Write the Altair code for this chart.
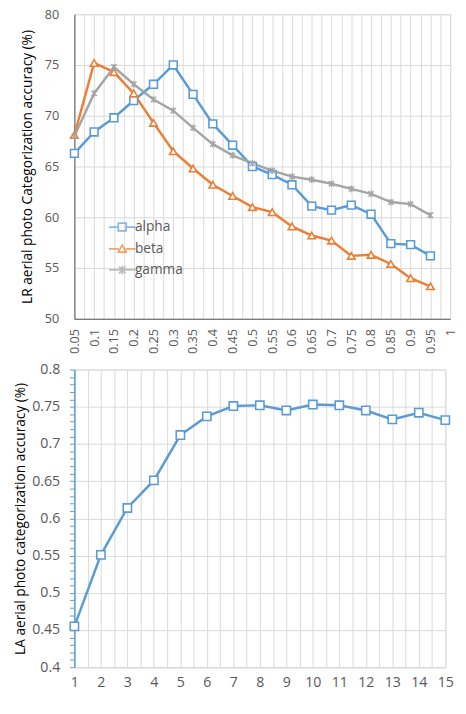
import altair as alt
import pandas as pd

# ---------------- data ----------------
top_x = [0.05, 0.1, 0.15, 0.2, 0.25, 0.3, 0.35, 0.4, 0.45, 0.5,
         0.55, 0.6, 0.65, 0.7, 0.75, 0.8, 0.85, 0.9, 0.95]
alpha = [66.3, 68.4, 69.8, 71.5, 73.1, 75.0, 72.1, 69.2, 67.1, 65.0,
         64.2, 63.2, 61.1, 60.7, 61.2, 60.3, 57.4, 57.3, 56.2]
beta = [68.1, 75.2, 74.3, 72.2, 69.3, 66.5, 64.8, 63.2, 62.1, 61.0,
        60.5, 59.1, 58.2, 57.7, 56.2, 56.3, 55.4, 54.0, 53.2]
gamma = [68.0, 72.2, 74.8, 73.1, 71.6, 70.5, 68.8, 67.2, 66.1, 65.3,
         64.6, 64.0, 63.7, 63.3, 62.8, 62.3, 61.5, 61.3, 60.2]
series_names = ["alpha", "beta", "gamma"]
series_colors = ["#5B9BD5", "#ED7D31", "#A5A5A5"]

bottom_x = list(range(1, 16))
la_acc = [0.455, 0.551, 0.614, 0.651, 0.712, 0.737, 0.751, 0.752,
          0.745, 0.753, 0.752, 0.745, 0.733, 0.742, 0.732]

top_y_ticks = [50, 55, 60, 65, 70, 75, 80]
top_x_ticks = [round(0.05 + 0.025 * i, 4) for i in range(39)]
bot_x_ticks = [1 + 0.5 * i for i in range(29)]
bot_y_ticks = [round(0.4 + 0.01 * i, 4) for i in range(41)]

# ---------------- frames ----------------
rows = []
for name, vals in zip(series_names, [alpha, beta, gamma]):
    for x, v in zip(top_x, vals):
        rows.append({"x": x, "acc": v, "series": name})
df_top = pd.DataFrame(rows)
df_bot = pd.DataFrame({"x": bottom_x, "acc": la_acc})

FONT = "Open Sans"
GRID = "#D9D9D9"
LABEL = "#595959"

color_scale = alt.Scale(domain=series_names, range=series_colors)

x_top = alt.X(
    "x:Q",
    scale=alt.Scale(domain=[0.05, 1], nice=False, zero=False),
    axis=alt.Axis(
        values=top_x_ticks, title=None, grid=True, gridColor=GRID,
        ticks=False, labelAngle=270, labelPadding=10, labelFontSize=13,
        labelColor=LABEL, labelFont=FONT, labelFlush=False, labelOverlap=False,
        labelExpr="round(datum.value*40) % 2 == 0 ? toString(round(datum.value*20)/20) : ''",
        domainColor=LABEL, domainWidth=1,
    ),
)
y_top = alt.Y(
    "acc:Q",
    scale=alt.Scale(domain=[50, 80], nice=False, zero=False),
    axis=alt.Axis(
        values=top_y_ticks, title="LR aerial photo Categorization accuracy (%)",
        titleFont=FONT, titleFontSize=14, titleFontWeight="normal", titleColor="#000000",
        titlePadding=10, grid=True, gridColor=GRID, ticks=False,
        labelPadding=16, labelFontSize=13, labelColor=LABEL, labelFont=FONT,
        labelFlush=False, labelOverlap=False, domainColor=LABEL, domainWidth=1,
    ),
)

legend_def = alt.Legend(
    title=None, orient="none", legendX=40, legendY=209, padding=0,
    symbolSize=256, symbolStrokeWidth=1.8, labelOffset=4, rowPadding=5.5,
    labelFontSize=14, labelFont=FONT, labelColor=LABEL)

base_top = alt.Chart(df_top).encode(x=x_top, y=y_top)

lines = base_top.mark_line(strokeWidth=2.5).encode(
    color=alt.Color("series:N", scale=color_scale, legend=legend_def),
    detail="series:N",
)

star_path = "M-1,-1L1,1M-1,1L1,-1M0,-1.25L0,1.25"
m_alpha = base_top.transform_filter("datum.series == 'alpha'").mark_point(
    shape="square", filled=True, fill="white", stroke=series_colors[0],
    strokeWidth=1.6, size=64, opacity=1)
m_beta = base_top.transform_filter("datum.series == 'beta'").mark_point(
    shape="triangle-up", filled=True, fill="white", stroke=series_colors[1],
    strokeWidth=1.6, size=60, opacity=1)
m_gamma = base_top.transform_filter("datum.series == 'gamma'").mark_point(
    shape=star_path, filled=False, stroke=series_colors[2],
    strokeWidth=1.4, size=30, opacity=1)

legend_paths = [
    "M-1.7,0H-0.5M0.5,0H1.7M-0.5,-0.5H0.5V0.5H-0.5Z",
    "M-1.7,0H-0.45M0.45,0H1.7M0,-0.5L0.5,0.4H-0.5Z",
    "M-1.7,0H1.7M-0.42,-0.42L0.42,0.42M-0.42,0.42L0.42,-0.42M0,-0.55V0.55",
]
legend_layer = base_top.transform_filter("datum.acc < 0").mark_point(
    filled=False, strokeWidth=1.8).encode(
    color=alt.Color("series:N", scale=color_scale, legend=legend_def),
    shape=alt.Shape("series:N", scale=alt.Scale(domain=series_names, range=legend_paths),
                    legend=legend_def),
)

top = alt.layer(lines, m_alpha, m_beta, m_gamma, legend_layer).properties(
    width=385, height=312)

# ---------------- bottom chart ----------------
is5 = "abs(datum.value*20 - round(datum.value*20)) < 0.001"
x_bot = alt.X(
    "x:Q",
    scale=alt.Scale(domain=[1, 15], nice=False, zero=False),
    axis=alt.Axis(
        values=bot_x_ticks, title=None, grid=True, gridColor=GRID, ticks=False,
        labelPadding=9, labelFontSize=14.5, labelColor=LABEL, labelFont=FONT,
        labelFlush=False, labelOverlap=False,
        labelExpr="datum.value % 1 == 0 ? toString(datum.value) : ''",
        domainColor=GRID,
    ),
)
y_bot = alt.Y(
    "acc:Q",
    scale=alt.Scale(domain=[0.4, 0.8], nice=False, zero=False),
    axis=alt.Axis(
        values=bot_y_ticks, title="LA aerial photo categorization accuracy (%)",
        titleFont=FONT, titleFontSize=14, titleFontWeight="normal", titleColor="#000000",
        titlePadding=4, grid=True, gridColor=GRID,
        gridOpacity={"condition": {"test": is5, "value": 1}, "value": 0},
        ticks=True, tickSize=5, tickColor="#5B9BD5", tickWidth=1,
        labelPadding=10, labelFontSize=14.5, labelColor=LABEL, labelFont=FONT,
        labelFlush=False, labelOverlap=False,
        labelExpr=is5 + " ? format(datum.value, '.2~f') : ''",
        domainColor="#5B9BD5", domainWidth=1.5,
    ),
)
base_bot = alt.Chart(df_bot).encode(x=x_bot, y=y_bot)
bot_line = base_bot.mark_line(strokeWidth=2.5, color="#5B9BD5")
bot_pts = base_bot.mark_point(
    shape="square", filled=True, fill="white", stroke="#5B9BD5",
    strokeWidth=1.6, size=72, opacity=1)
bottom = alt.layer(bot_line, bot_pts).properties(width=380, height=305)

chart = alt.vconcat(top, bottom, spacing=6).properties(
    padding={"left": 5, "top": -9, "right": 0, "bottom": -4}
).configure_view(stroke=None).configure(font=FONT)

chart.save("out.html", embed_options={"renderer": "svg", "actions": False})
